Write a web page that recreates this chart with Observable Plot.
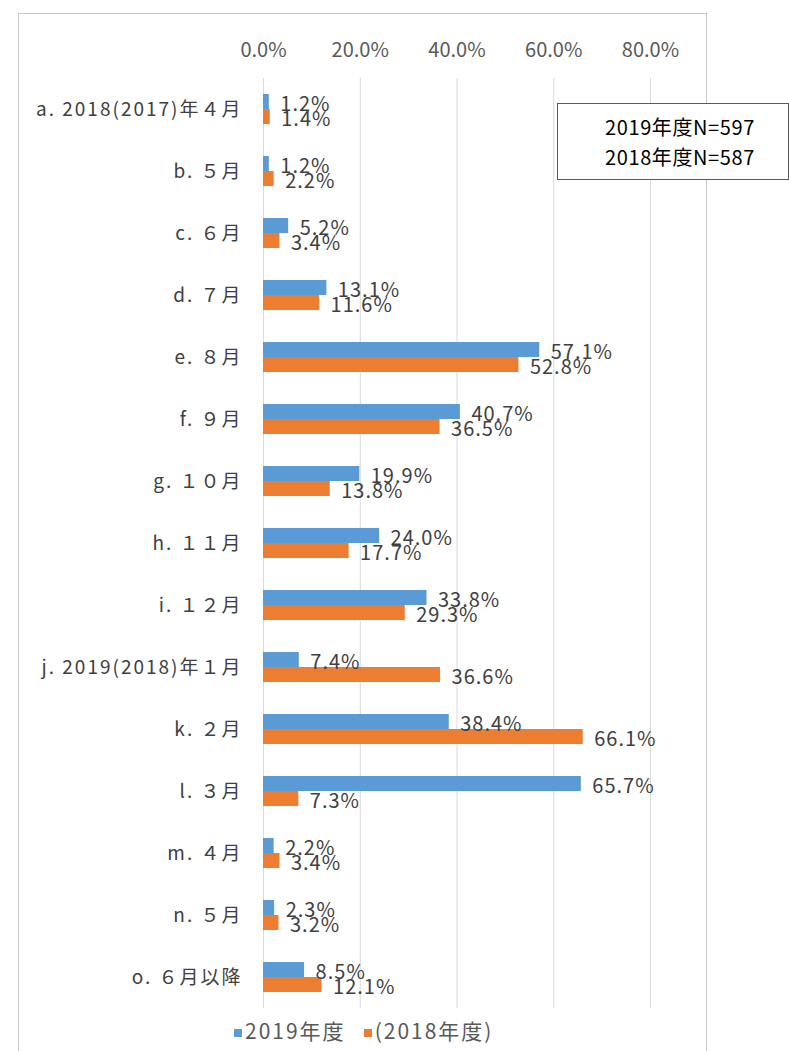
<!DOCTYPE html>
<html><head><meta charset="utf-8">
<script src="https://cdn.jsdelivr.net/npm/d3@7"></script>
<script src="https://cdn.jsdelivr.net/npm/@observablehq/plot@0.6"></script>
<style>
body{margin:0;background:#fff;font-family:"Noto Sans CJK JP","Noto Sans",sans-serif;}
#wrap{position:relative;width:789px;height:1051px;overflow:hidden;}
#frame{position:absolute;left:18px;top:13px;width:689px;height:1100px;border:1px solid #c8c8c8;box-sizing:border-box;}
#chart{position:absolute;left:0;top:0;}
#nbox{position:absolute;left:557px;top:103px;width:232px;height:77px;border:1px solid #595959;background:#fff;box-sizing:border-box;text-align:center;font-size:20px;line-height:30px;padding-top:8px;padding-left:14px;color:#000;letter-spacing:0.6px;}
#legend{position:absolute;top:1014px;left:234px;width:300px;font-size:21px;line-height:32px;color:#595959;letter-spacing:2px;white-space:nowrap;}
.sw{display:inline-block;width:8px;height:8px;margin-right:3px;vertical-align:2px;}
</style></head>
<body><div id="wrap"><div id="frame"></div><div id="chart"></div>
<div id="nbox">2019年度N=597<br>2018年度N=587</div>
<div id="legend"></div>
</div>
<script>
const categories = ["a. 2018(2017)年４月","b. ５月","c. ６月","d. ７月","e. ８月","f. ９月","g. １０月","h. １１月","i. １２月","j. 2019(2018)年１月","k. ２月","l. ３月","m. ４月","n. ５月","o. ６月以降"];
const series = ["2019年度","(2018年度)"];
const values2019 = [1.2,1.2,5.2,13.1,57.1,40.7,19.9,24.0,33.8,7.4,38.4,65.7,2.2,2.3,8.5];
const values2018 = [1.4,2.2,3.4,11.6,52.8,36.5,13.8,17.7,29.3,36.6,66.1,7.3,3.4,3.2,12.1];
const xTicks = [0,20,40,60,80];
const colors = ["#5B9BD5","#ED7D31"];

const data = [];
categories.forEach((c,i)=>{
  data.push({cat:c, s:series[0], v:values2019[i]});
  data.push({cat:c, s:series[1], v:values2018[i]});
});
const fmt = d => d.toFixed(1)+"%";
const chart = Plot.plot({
  width: 789, height: 1010,
  marginLeft: 263, marginRight: 139, marginTop: 78, marginBottom: 2,
  style:{fontFamily:'"Noto Sans CJK JP","Noto Sans",sans-serif', background:"transparent", color:"#404040"},
  x:{domain:[0,80], ticks:xTicks, tickFormat:fmt, axis:"top", tickSize:0, tickPadding:22, label:null},
  fy:{domain:categories, padding:0, label:null, tickSize:0, tickPadding:21, axis:"left"},
  y:{domain:series, axis:null, paddingInner:0, paddingOuter:0.95},
  color:{domain:series, range:colors},
  marks:[
    Plot.gridX(xTicks,{stroke:"#d9d9d9", strokeOpacity:1}),
    Plot.barX(data,{x:"v", y:"s", fy:"cat", fill:"s", insetTop:0, insetBottom:0}),
    Plot.text(data,{x:"v", y:"s", fy:"cat", text:d=>fmt(d.v), textAnchor:"start", dx:11, dy:3, fill:"#404040", fontSize:20})
  ]
});
chart.querySelectorAll('[aria-label="fy-axis tick label"]').forEach(g=>{g.setAttribute("font-size","19"); g.style.letterSpacing="2px"; g.setAttribute("fill","#404040");});
chart.querySelectorAll('[aria-label="x-axis tick label"]').forEach(g=>{g.setAttribute("font-size","20"); g.setAttribute("fill","#595959");});
chart.querySelectorAll('[aria-label="text"]').forEach(g=>{g.style.letterSpacing="1px";});
document.getElementById("chart").appendChild(chart);

const leg = document.getElementById("legend");
series.forEach((s,i)=>{
  const sw = document.createElement("span"); sw.className="sw"; sw.style.background=colors[i];
  const t = document.createElement("span"); t.textContent=s; if(i===0) t.style.marginRight="18px";
  leg.appendChild(sw); leg.appendChild(t);
});
</script>
</body></html>
